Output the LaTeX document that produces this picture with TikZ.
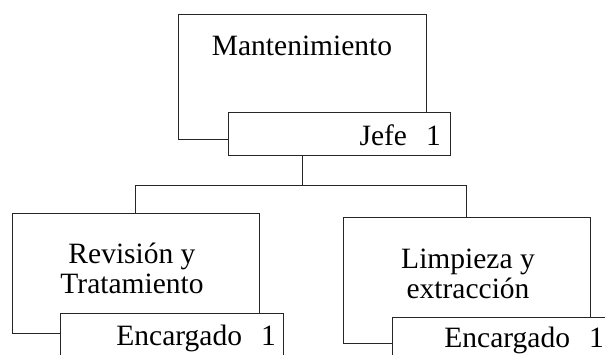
\documentclass[tikz,border=0pt]{standalone}
\usepackage{fontspec}
\setmainfont{Liberation Serif}

\begin{document}
\begin{tikzpicture}[x=1pt,y=-1pt,
    caja/.style={shape=rectangle,draw=black!85,fill=white,line width=0.8pt,inner sep=0pt,outer sep=0pt},
    texto/.style={font=\fontsize{29.5}{30}\selectfont,inner sep=0pt},
    linea/.style={draw=black!85,line width=0.8pt}]

    \clip (0,0) rectangle (605,354);

    % jefe
    \node[caja,minimum width=248pt,minimum height=125pt] (mant) at (302,76.5) {};
    \node[caja,minimum width=222pt,minimum height=43pt]  (jefe) at (339,133.5) {};
    \node[texto,anchor=base] (mantText) at (302,55) {Mantenimiento};
    \node[texto,anchor=base east] (jefeText) at (441,145) {Jefe\hspace{19pt}1};

    % areas
    \node[caja,minimum width=247pt,minimum height=120pt] (rev) at (135.5,273) {};
    \node[caja,minimum width=223pt,minimum height=62pt]  (revEnc) at (171.5,344) {};
    \node[caja,minimum width=247pt,minimum height=126pt] (lim) at (466.5,280) {};
    \node[caja,minimum width=223pt,minimum height=62pt]  (limEnc) at (503.5,348) {};

    \node[texto,align=center,anchor=base] (revText) at (132,293) {Revisión y\\Tratamiento};
    \node[texto,align=center,anchor=base] (limText) at (468,298) {Limpieza y\\extracción};
    \node[texto,anchor=base east] (revEncText) at (276,345) {Encargado\hspace{19pt}1};
    \node[texto,anchor=base east] (limEncText) at (604,347) {Encargado\hspace{19pt}1};

    % conectores
    \coordinate (bus) at (302,185);
    \path[linea] (jefe.south -| mant.south) edge (bus);
    \draw[linea] (bus) -| (rev.north);
    \draw[linea] (bus) -| (lim.north);
\end{tikzpicture}
\end{document}
